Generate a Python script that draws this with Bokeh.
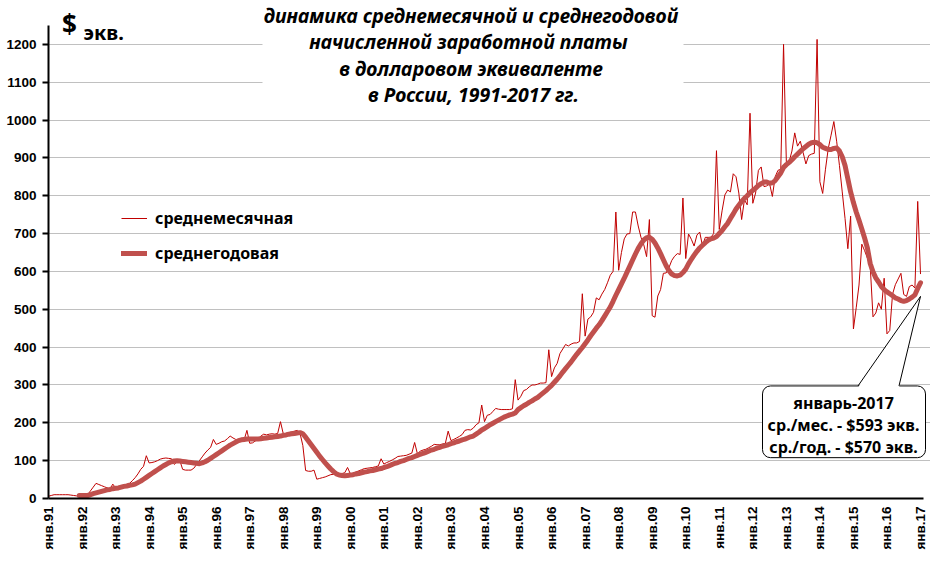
import numpy as np
from bokeh.plotting import figure
from bokeh.models import (Range1d, FixedTicker, Label, BoxAnnotation, PolyAnnotation,
                          Legend, LegendItem)
from bokeh.embed import file_html
from bokeh.resources import INLINE

# ---------------- data ----------------
years = list(range(1991, 2018))
tick_labels = ["янв.%02d" % (y % 100) for y in years]

# monthly average wage, USD equivalent (Jan..Dec)
m1991 = [6, 8, 10, 10, 10, 10, 10, 10, 9, 8, 7, 6]
m1992 = [7, 8, 10, 20, 30, 40, 37, 34, 31, 28, 25, 38]
m1993 = [28, 30, 32, 35, 37, 40, 47, 55, 65, 77, 85, 113]
m1994 = [94, 95, 97, 100, 104, 106, 107, 106, 105, 90, 97, 100]
m1995 = [77, 75, 75, 75, 80, 90, 100, 110, 120, 128, 135, 156]
m1996 = [143, 146, 150, 152, 158, 165, 160, 156, 153, 152, 155, 180]
m1997 = [146, 147, 152, 158, 165, 170, 168, 170, 171, 170, 172, 203]
m1998 = [171, 172, 174, 176, 178, 180, 172, 140, 74, 72, 72, 75]
m1999 = [51, 53, 55, 57, 60, 63, 64, 65, 64, 66, 68, 82]
m2000 = [65, 67, 70, 73, 76, 79, 80, 81, 82, 84, 86, 105]
m2001 = [91, 95, 98, 102, 106, 111, 112, 113, 114, 117, 120, 148]
m2002 = [118, 125, 128, 130, 134, 138, 143, 142, 142, 144, 146, 178]
m2003 = [153, 156, 160, 164, 169, 180, 182, 181, 186, 195, 200, 247]
m2004 = [203, 220, 222, 230, 238, 236, 235, 235, 235, 235, 237, 314]
m2005 = [260, 270, 285, 288, 295, 300, 300, 302, 305, 305, 306, 393]
m2006 = [322, 345, 357, 383, 395, 407, 403, 408, 411, 411, 415, 541]
m2007 = [429, 474, 480, 492, 530, 525, 540, 552, 570, 590, 600, 757]
m2008 = [603, 650, 686, 699, 700, 757, 757, 720, 690, 670, 639, 737]
m2009 = [483, 479, 535, 552, 595, 596, 610, 629, 640, 647, 645, 794]
m2010 = [634, 699, 685, 667, 696, 704, 667, 690, 690, 690, 700, 919]
m2011 = [711, 760, 802, 815, 810, 858, 850, 807, 737, 789, 776, 1018]
m2012 = [780, 807, 867, 876, 824, 826, 832, 798, 850, 867, 870, 1200]
m2013 = [888, 890, 918, 966, 931, 944, 914, 884, 906, 910, 912, 1213]
m2014 = [837, 806, 870, 925, 960, 996, 944, 880, 810, 740, 660, 746]
m2015 = [448, 504, 564, 672, 655, 635, 616, 480, 490, 517, 500, 582]
m2016 = [435, 444, 540, 565, 580, 595, 539, 534, 560, 564, 556, 785]
m2017 = [593]

# average over the preceding 12 months (starts Dec 1991)
a1991 = [8]
a1992 = [8, 8, 8, 10, 13, 15, 17, 19, 21, 23, 24, 26]
a1993 = [27, 28, 30, 32, 33, 35, 36, 38, 42, 46, 51, 56]
a1994 = [61, 66, 71, 76, 81, 86, 90, 94, 97, 99, 100, 99]
a1995 = [98, 97, 96, 95, 94, 93, 92, 94, 97, 101, 106, 111]
a1996 = [116, 121, 126, 131, 136, 141, 145, 149, 153, 155, 156, 157]
a1997 = [157, 157, 157, 157, 158, 159, 160, 161, 162, 163, 164, 165]
a1998 = [167, 168, 170, 171, 172, 173, 174, 171, 162, 152, 142, 132]
a1999 = [122, 112, 103, 94, 86, 78, 71, 65, 62, 61, 60, 61]
a2000 = [62, 63, 65, 66, 68, 70, 71, 73, 74, 76, 78, 79]
a2001 = [82, 84, 87, 90, 93, 95, 98, 100, 103, 106, 108, 111]
a2002 = [114, 117, 119, 122, 125, 128, 130, 133, 135, 138, 140, 142]
a2003 = [145, 147, 150, 152, 155, 157, 160, 163, 165, 170, 175, 181]
a2004 = [185, 190, 195, 199, 203, 207, 211, 215, 218, 221, 223, 226]
a2005 = [235, 240, 245, 249, 254, 258, 263, 267, 273, 279, 285, 292]
a2006 = [299, 307, 315, 324, 334, 343, 352, 361, 371, 381, 390, 399]
a2007 = [409, 419, 430, 440, 450, 459, 470, 482, 494, 506, 521, 537]
a2008 = [552, 567, 582, 598, 614, 630, 646, 661, 673, 683, 689, 690]
a2009 = [685, 675, 662, 647, 631, 615, 602, 593, 589, 588, 590, 597]
a2010 = [606, 620, 632, 643, 653, 662, 669, 676, 682, 686, 688, 692]
a2011 = [700, 708, 718, 727, 740, 752, 765, 775, 785, 793, 800, 808]
a2012 = [814, 820, 827, 832, 836, 836, 833, 834, 840, 850, 860, 875]
a2013 = [882, 888, 895, 903, 910, 917, 924, 930, 936, 940, 941, 940]
a2014 = [935, 928, 925, 922, 922, 925, 926, 918, 903, 880, 845, 810]
a2015 = [782, 757, 735, 712, 688, 662, 621, 599, 583, 572, 560, 552]
a2016 = [546, 541, 536, 530, 527, 523, 521, 523, 527, 532, 538, 555]
a2017 = [570]

monthly = (m1991 + m1992 + m1993 + m1994 + m1995 + m1996 + m1997 + m1998 + m1999 +
           m2000 + m2001 + m2002 + m2003 + m2004 + m2005 + m2006 + m2007 + m2008 +
           m2009 + m2010 + m2011 + m2012 + m2013 + m2014 + m2015 + m2016 + m2017)
annual = (a1991 + a1992 + a1993 + a1994 + a1995 + a1996 + a1997 + a1998 + a1999 +
          a2000 + a2001 + a2002 + a2003 + a2004 + a2005 + a2006 + a2007 + a2008 +
          a2009 + a2010 + a2011 + a2012 + a2013 + a2014 + a2015 + a2016 + a2017)
annual_first_month = 11  # December 1991

month_x = list(range(len(monthly)))
annual_x = list(range(annual_first_month, annual_first_month + len(annual)))

title_lines = ["динамика среднемесячной  и среднегодовой",
               "начисленной  заработной  платы",
               "в долларовом  эквиваленте",
               "в России, 1991-2017 гг."]
callout_lines = ["январь-2017", "ср./мес. - $593 экв.", "ср./год. - $570 экв."]

# ---------------- layout ----------------
W, H = 930, 552
BL, BB = 48, 52            # left / bottom borders hold the axes
XLAST, YLAST = 312, 1250   # extent of the drawn axes
SX = (920 - BL) / XLAST    # px per month
SY = (H - BB - 25) / YLAST # px per unit
XMAX = (W - BL) / SX
YMAX = (H - BB) / SY


def dx(cx):  # canvas px -> data x
    return (cx - BL) / SX


def dy(cy):  # canvas px -> data y
    return (H - BB - cy) / SY


p = figure(width=W, height=H, output_backend="svg", toolbar_location=None,
           x_range=Range1d(0, XMAX), y_range=Range1d(0, YMAX),
           min_border_left=BL, min_border_right=0, min_border_top=0, min_border_bottom=BB)
p.outline_line_color = None
p.background_fill_color = "white"
p.border_fill_color = "white"
p.xgrid.visible = False
p.ygrid.ticker = FixedTicker(ticks=list(range(100, 1300, 100)))
p.ygrid.grid_line_color = "#C0C0C0"
p.ygrid.grid_line_width = 1

AX_FONT = "Liberation Sans"
p.yaxis.bounds = (0, YLAST)
p.yaxis.ticker = FixedTicker(ticks=list(range(0, 1300, 100)))
p.yaxis.axis_line_width = 2
p.yaxis.axis_line_color = "black"
p.yaxis.major_tick_line_width = 2
p.yaxis.major_tick_line_color = "black"
p.yaxis.major_tick_out = 6
p.yaxis.major_tick_in = 0
p.yaxis.minor_tick_out = 0
p.yaxis.minor_tick_in = 0
p.yaxis.major_label_text_font = AX_FONT
p.yaxis.major_label_text_font_style = "bold"
p.yaxis.major_label_text_font_size = "13.5px"
p.yaxis.major_label_text_color = "black"
p.yaxis.major_label_standoff = 6

p.xaxis.bounds = (0, XLAST + 1)
p.xaxis.ticker = FixedTicker(ticks=[12 * i for i in range(len(years))])
p.xaxis.major_label_overrides = {12 * i: lab for i, lab in enumerate(tick_labels)}
p.xaxis.major_label_orientation = np.pi / 2
p.xaxis.axis_line_width = 2
p.xaxis.axis_line_color = "black"
p.xaxis.major_tick_out = 0
p.xaxis.major_tick_in = 0
p.xaxis.minor_tick_out = 0
p.xaxis.minor_tick_in = 0
p.xaxis.major_label_text_font = AX_FONT
p.xaxis.major_label_text_font_style = "bold"
p.xaxis.major_label_text_font_size = "13.5px"
p.xaxis.major_label_text_color = "black"
p.xaxis.major_label_standoff = 8

r_month = p.line(month_x, monthly, line_color="#C00000", line_width=1)
r_year = p.line(annual_x, annual, line_color="#C0504D", line_width=5,
                line_join="round", line_cap="round")

legend = Legend(items=[LegendItem(label="среднемесячная", renderers=[r_month]),
                       LegendItem(label="среднегодовая", renderers=[r_year])],
                location=(73, 234), orientation="vertical",
                glyph_width=26, glyph_height=22, label_height=22, spacing=13,
                label_standoff=8, padding=0, margin=0,
                border_line_color=None, background_fill_alpha=0,
                label_text_font="Noto Sans", label_text_font_style="bold",
                label_text_font_size="16px", label_text_color="black")
p.add_layout(legend)

# title area (white box hiding the grid)
p.add_layout(BoxAnnotation(left=dx(262), right=dx(683), bottom=dy(105), top=dy(0),
                           fill_color="white", fill_alpha=1, line_color=None))
for i, t in enumerate(title_lines):
    p.add_layout(Label(x=dx(473), y=dy(15 + 26.6 * i), text=t,
                       text_align="center", text_baseline="middle",
                       text_font="Noto Sans", text_font_style="bold italic",
                       text_font_size="19.5px", text_color="black"))

# unit label
p.add_layout(Label(x=dx(69), y=dy(24), text="$", text_align="center", text_baseline="middle",
                   text_font="Noto Sans", text_font_style="bold", text_font_size="26px",
                   text_color="black"))
p.add_layout(Label(x=dx(83), y=dy(32), text="экв.", text_align="left", text_baseline="alphabetic",
                   text_font="Noto Sans", text_font_style="bold", text_font_size="20px",
                   text_color="black"))

# callout
box_l, box_r, box_t, box_b = 762, 925, 387, 459
p.add_layout(BoxAnnotation(left=dx(box_l), right=dx(box_r), top=dy(box_t), bottom=dy(box_b),
                           fill_color="white", fill_alpha=1,
                           line_color="black", line_alpha=1, line_width=1,
                           border_radius=8))
tip_x, tip_y = XLAST, 534
base_a, base_b = 857.5, 898.5
p.add_layout(PolyAnnotation(xs=[dx(base_a), dx(base_b), tip_x],
                            ys=[dy(box_t + 1.5), dy(box_t + 1.5), tip_y],
                            fill_color="white", fill_alpha=1, line_color=None))
p.add_layout(PolyAnnotation(xs=[dx(base_a), tip_x], ys=[dy(box_t), tip_y],
                            fill_alpha=0, line_color="black", line_alpha=1, line_width=1))
p.add_layout(PolyAnnotation(xs=[dx(base_b), tip_x], ys=[dy(box_t), tip_y],
                            fill_alpha=0, line_color="black", line_alpha=1, line_width=1))
for i, t in enumerate(callout_lines):
    p.add_layout(Label(x=dx(843), y=dy(404 + 22.2 * i), text=t,
                       text_align="center", text_baseline="middle",
                       text_font="Noto Sans", text_font_style="bold",
                       text_font_size="16px", text_color="black"))

open("out.html", "w").write(file_html(p, INLINE))
